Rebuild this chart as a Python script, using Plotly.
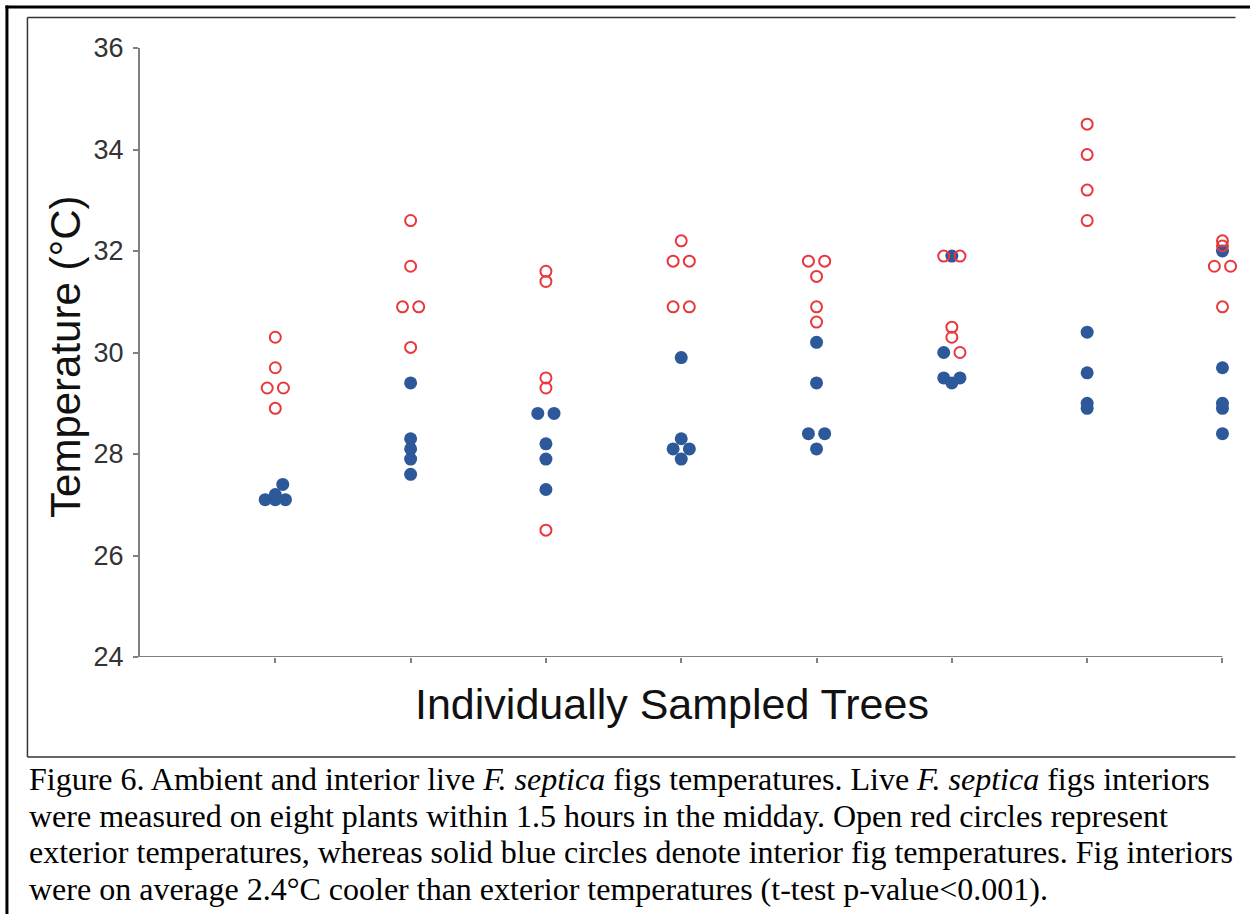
import plotly.graph_objects as go

# ---------------- data ----------------
trees = [1, 2, 3, 4, 5, 6, 7, 8]

exterior = [
    [30.3, 29.7, 29.3, 29.3, 28.9],
    [32.6, 31.7, 30.9, 30.9, 30.1],
    [31.6, 31.4, 29.5, 29.3, 26.5],
    [32.2, 31.8, 31.8, 30.9, 30.9],
    [31.8, 31.8, 31.5, 30.9, 30.6],
    [31.9, 31.9, 30.5, 30.3, 30.0],
    [34.5, 33.9, 33.2, 32.6],
    [32.2, 32.1, 31.7, 31.7, 30.9],
]
exterior_jitter = [
    [0, 0, -0.06, 0.06, 0],
    [0, 0, -0.06, 0.06, 0],
    [0, 0, 0, 0, 0],
    [0, -0.06, 0.06, -0.06, 0.06],
    [-0.06, 0.06, 0, 0, 0],
    [-0.06, 0.06, 0, 0, 0.06],
    [0, 0, 0, 0],
    [0, 0, -0.06, 0.06, 0],
]

interior = [
    [27.1, 27.1, 27.1, 27.2, 27.4],
    [29.4, 28.3, 28.1, 27.9, 27.6],
    [28.8, 28.8, 28.2, 27.9, 27.3],
    [29.9, 28.3, 28.1, 28.1, 27.9],
    [30.2, 29.4, 28.4, 28.4, 28.1],
    [31.9, 30.0, 29.5, 29.5, 29.4],
    [30.4, 29.6, 29.0, 28.9],
    [32.0, 29.7, 29.0, 28.9, 28.4],
]
interior_jitter = [
    [-0.075, 0, 0.075, 0, 0.055],
    [0, 0, 0, 0, 0],
    [-0.06, 0.06, 0, 0, 0],
    [0, 0, -0.06, 0.06, 0],
    [0, 0, -0.06, 0.06, 0],
    [0, -0.06, -0.06, 0.06, 0],
    [0, 0, 0, 0],
    [0, 0, 0, 0, 0],
]

y_ticks = [24, 26, 28, 30, 32, 34, 36]
x_title = "Individually Sampled Trees"
y_title = "Temperature (°C)"
caption_lines = [
    "Figure 6. Ambient and interior live <i>F. septica</i> figs temperatures. Live <i>F. septica</i> figs interiors",
    "were measured on eight plants within 1.5 hours in the midday. Open red circles represent",
    "exterior temperatures, whereas solid blue circles denote interior fig temperatures. Fig interiors",
    "were on average 2.4°C cooler than exterior temperatures (t-test p-value&lt;0.001).",
]

# ---------------- build ----------------
def flatten(vals, jit):
    xs, ys = [], []
    for t, v, j in zip(trees, vals, jit):
        for vv, jj in zip(v, j):
            xs.append(t + jj)
            ys.append(vv)
    return xs, ys

xi, yi = flatten(interior, interior_jitter)
xe, ye = flatten(exterior, exterior_jitter)

W, H = 1250, 914
X_MAX = 8.1                      # small extra room so the last tree's offset marks stay visible
L, T, B = 140, 48, 657           # plot area in pixels
UNIT = (1222 - L) / 8.0          # pixels per tree
R = L + UNIT * X_MAX


def px(x):
    return (x - L) / (R - L)


def py(y):
    return (B - y) / (B - T)


fig = go.Figure()
fig.add_trace(go.Scatter(
    x=xi, y=yi, mode="markers", cliponaxis=False, hoverinfo="skip",
    marker=dict(symbol="circle", size=13, color="#2D5899", line=dict(width=0)),
))
fig.add_trace(go.Scatter(
    x=xe, y=ye, mode="markers", cliponaxis=False, hoverinfo="skip",
    marker=dict(symbol="circle-open", size=11, color="#E8383D", line=dict(width=2, color="#E8383D")),
))

axis_col = "#808080"
fig.update_layout(
    width=W, height=H,
    margin=dict(l=L, r=W - R, t=T, b=H - B),
    paper_bgcolor="white", plot_bgcolor="white",
    showlegend=False,
    xaxis=dict(range=[0, X_MAX], tickvals=trees, ticktext=[""] * len(trees),
               showgrid=False, zeroline=False, showline=False,
               ticks="outside", ticklen=5, tickwidth=1.5, tickcolor=axis_col),
    yaxis=dict(range=[24, 36], tickvals=y_ticks, ticktext=[str(t) for t in y_ticks],
               showgrid=False, zeroline=False, showline=True, linecolor=axis_col, linewidth=2,
               ticks="outside", ticklen=5, tickwidth=1.5, tickcolor=axis_col,
               ticklabelstandoff=4,
               tickfont=dict(family="Liberation Sans, Arial", size=27, color="#333333")),
)

annotations = [
    dict(x=px(672), y=py(704), xref="paper", yref="paper", text=x_title, showarrow=False,
         xanchor="center", yanchor="middle",
         font=dict(family="Liberation Sans, Arial", size=43, color="#111111")),
    dict(x=px(65), y=py(356), xref="paper", yref="paper", text=y_title, showarrow=False,
         textangle=-90, xanchor="center", yanchor="middle",
         font=dict(family="Liberation Sans, Arial", size=42, color="#111111")),
]
cap_centers = [778.5, 816, 852, 888.5]
for line, cy in zip(caption_lines, cap_centers):
    annotations.append(dict(
        x=px(27), y=py(cy), xref="paper", yref="paper", text=line, showarrow=False,
        xanchor="left", yanchor="middle",
        font=dict(family="Liberation Serif, Times New Roman", size=32, color="#000000")))
fig.update_layout(annotations=annotations)

shapes = [
    # x axis line from first to last tree boundary (0 .. 8)
    dict(type="line", xref="x", yref="y", x0=0, x1=8, y0=24, y1=24,
         line=dict(color=axis_col, width=2)),
    # outer frame
    dict(type="line", xref="paper", yref="paper", x0=px(5.5), x1=px(1250), y0=py(7), y1=py(7),
         line=dict(color="black", width=3)),
    dict(type="line", xref="paper", yref="paper", x0=px(7), x1=px(7), y0=py(5.5), y1=py(914),
         line=dict(color="black", width=3)),
    # inner chart frame (no right edge visible)
    dict(type="line", xref="paper", yref="paper", x0=px(27.5), x1=px(1235), y0=py(17.5), y1=py(17.5),
         line=dict(color="#333333", width=1.5)),
    dict(type="line", xref="paper", yref="paper", x0=px(27.5), x1=px(27.5), y0=py(17.5), y1=py(757),
         line=dict(color="#333333", width=1.5)),
    dict(type="line", xref="paper", yref="paper", x0=px(27.5), x1=px(1235), y0=py(757), y1=py(757),
         line=dict(color="#333333", width=1.5)),
]
for s in shapes:
    s["layer"] = "above"
fig.update_layout(shapes=shapes)

fig.write_html("out.html")
